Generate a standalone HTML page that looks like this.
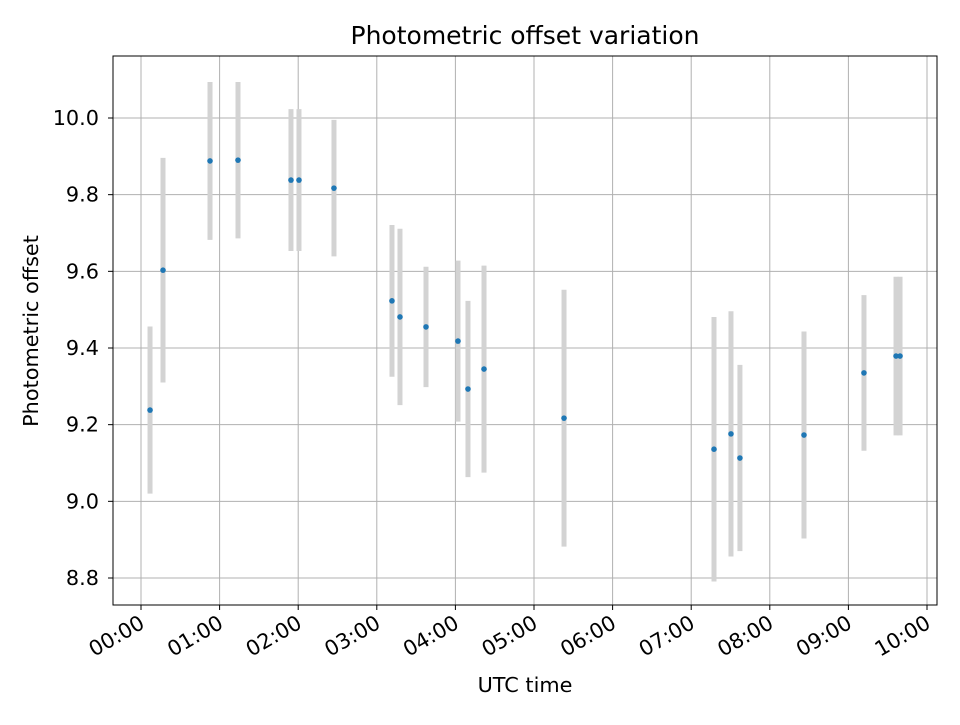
<!DOCTYPE html>
<html><head><meta charset="utf-8"><style>
body{margin:0;background:#fff}
svg{font-family:"DejaVu Sans","Liberation Sans",sans-serif}
</style></head><body>
<svg id="chart" width="960" height="720" xmlns="http://www.w3.org/2000/svg">
<rect width="960" height="720" fill="#fff"/>
<g id="grid"></g><g id="errs"></g><g id="pts"></g><g id="axes"></g>
<text x="525" y="44" font-size="25" text-anchor="middle">Photometric offset variation</text>
<text x="525" y="692" font-size="20.8" text-anchor="middle">UTC time</text>
<text x="0" y="0" font-size="20.8" text-anchor="middle" transform="translate(38,331) rotate(-90)">Photometric offset</text>
</svg>
<script>
const timesHours=[0.115,0.28,0.878,1.234,1.908,2.01,2.455,3.193,3.295,3.626,4.033,4.16,4.364,5.382,7.29,7.506,7.62,8.435,9.198,9.606,9.657];
const offsets=[9.238,9.603,9.888,9.89,9.838,9.838,9.817,9.523,9.481,9.455,9.418,9.293,9.345,9.217,9.136,9.176,9.113,9.173,9.335,9.379,9.379];
const errors=[0.218,0.293,0.206,0.204,0.185,0.185,0.178,0.198,0.23,0.157,0.21,0.23,0.27,0.335,0.345,0.32,0.243,0.27,0.203,0.207,0.207];
const xTickLabels=["00:00","01:00","02:00","03:00","04:00","05:00","06:00","07:00","08:00","09:00","10:00"];
const yTicks=[8.8,9.0,9.2,9.4,9.6,9.8,10.0];

const L=113,R=937,T=56,B=605;
const xs=h=>141+h*78.6;
const ys=v=>118+(10.0-v)*383.33;
const NS="http://www.w3.org/2000/svg";
function mk(tag,attrs,parent){const e=document.createElementNS(NS,tag);for(const k in attrs)e.setAttribute(k,attrs[k]);parent.appendChild(e);return e;}
const grid=document.getElementById('grid'),errs=document.getElementById('errs'),pts=document.getElementById('pts'),axes=document.getElementById('axes');
xTickLabels.forEach((lab,i)=>{
  const x=xs(i);
  const g=mk('line',{x1:x,x2:x,y1:T,y2:B,stroke:'#b0b0b0','stroke-width':1},grid);
  
  
  const t=mk('line',{x1:x,x2:x,y1:B,y2:B+5,stroke:'#000','stroke-width':1},axes);
  
  
  const tx=mk('text',{x:0,y:0,'font-size':20.8,'text-anchor':'end',transform:`translate(${x+5},${B+22}) rotate(-30)`},axes);
  tx.textContent=lab;
  
  
});
yTicks.forEach(v=>{
  const y=ys(v);
  const g=mk('line',{x1:L,x2:R,y1:y,y2:y,stroke:'#b0b0b0','stroke-width':1},grid);
  
  
  const t=mk('line',{x1:L-5,x2:L,y1:y,y2:y,stroke:'#000','stroke-width':1},axes);
  
  
  const tx=mk('text',{x:L-14,y:y+7,'font-size':20.8,'text-anchor':'end'},axes);
  tx.textContent=v.toFixed(1);
  
  
});
const fr=mk('rect',{x:L,y:T,width:R-L,height:B-T,fill:'none',stroke:'#000','stroke-width':1},axes);


timesHours.forEach((h,i)=>{
  const x=xs(h);
  const e=mk('line',{x1:x,x2:x,y1:ys(offsets[i]+errors[i]),y2:ys(offsets[i]-errors[i]),stroke:'#d3d3d3','stroke-width':5},errs);
  
  
  const c=mk('circle',{cx:x,cy:ys(offsets[i]),r:2.8,fill:'#1f77b4'},pts);
  
  
});
</script>
</body></html>
